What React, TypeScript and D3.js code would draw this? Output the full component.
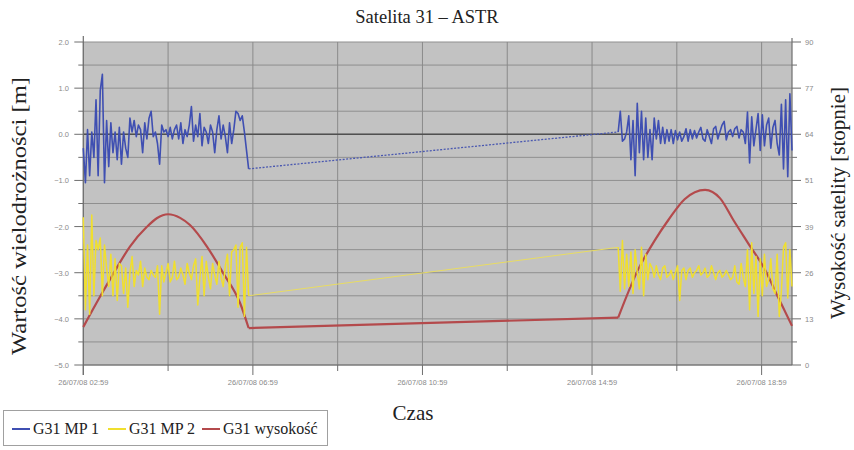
import React from "react";
import * as d3 from "d3";

// ---- data ----
const X_RANGE = ["26/07/08 02:59", "26/07/08 19:42"];
const X_TICK_LABELS = ["26/07/08 02:59", "26/07/08 06:59", "26/07/08 10:59", "26/07/08 14:59", "26/07/08 18:59"];
const X_MINOR_TICKS = ["26/07/08 04:59", "26/07/08 08:59", "26/07/08 12:59", "26/07/08 16:59"];
const LEFT_TICKS = [-5, -4, -3, -2, -1, 0, 1, 2];
const RIGHT_TICK_LABELS = ["0", "13", "26", "39", "51", "64", "77", "90"];
const RIGHT_MAX = 90;

// epochs every 3 minutes inside each pass
const PASS_STARTS = ["26/07/08 02:59", "26/07/08 15:36"];
const SAMPLE_STEP_MIN = 3;

const MP1_PASS1 = [
  -0.3, -1.05, 0.1, -0.9, 0.05, -0.5, 0.75, -0.9, 0.95, 1.3, -1.05, 0.3, -0.7, 0.25, -0.4, 0.05,
  -0.55, 0.15, -0.65, 0.05, -0.3, -0.5, 0.35, 0.05, 0.3, -0.05, 0.2, 0.1, -0.4, 0.25, -0.1, 0.35,
  0.5, -0.05, 0.05, -0.2, -0.65, 0.2, 0.05, 0.1, -0.05, 0.15, -0.1, 0.1, 0.2, -0.1, 0.25, -0.2,
  0.1, -0.05, 0.2, 0.6, -0.15, 0.2, -0.05, 0.45, -0.25, 0.15, 0.05, -0.2, 0.2, 0.05, -0.4, 0.1,
  0.4, -0.1, 0.2, -0.05, -0.4, 0.25, -0.2, 0.1, 0.5, 0.45, 0.3, 0.4, 0.05, -0.35, -0.75,
];
const MP1_PASS2 = [
  0.05, 0.5, -0.15, -0.1, 0.05, 0.4, -0.55, 0.3, -0.9, 0.67, -0.4, 0.5, -0.55, 0.35, -0.5, 0.1,
  -0.55, 0.35, -0.1, 0.3, -0.2, 0.15, -0.2, 0.1, -0.15, 0.1, -0.2, 0.08, -0.12, 0.05, -0.15, -0.05,
  0.12, -0.15, 0.1, -0.1, 0.08, -0.08, 0.05, 0.15, -0.1, -0.15, 0.1, -0.05, -0.2, 0.12, 0.17, -0.1,
  0.05, 0.2, 0.28, -0.12, 0.05, 0.1, -0.05, 0.12, 0.17, -0.08, 0.1, 0.05, -0.2, 0.48, -0.62, 0.38,
  -0.25, 0.1, 0.45, -0.35, 0.42, -0.25, 0.2, 0.35, -0.3, 0.15, 0.3, -0.2, -0.45, 0.65, -0.75, 0.75,
  -0.92, 0.88, -0.35,
];
const MP2_PASS1 = [
  -1.8, -3.8, -2.4, -3.9, -1.75, -3.5, -2.3, -2.5, -2.25, -3.5, -2.4, -2.9, -3.3, -2.6, -3.5, -2.7,
  -3.6, -2.8, -2.85, -3.45, -2.9, -3.75, -3.0, -2.65, -3.3, -2.95, -3.05, -2.75, -3.3, -2.9, -3.1, -3.15,
  -2.95, -3.05, -3.1, -2.85, -3.9, -2.85, -3.2, -3.0, -2.8, -3.2, -3.1, -2.75, -3.15, -3.1, -2.9, -3.05,
  -3.25, -2.8, -3.0, -3.15, -2.85, -2.7, -3.7, -3.1, -2.65, -3.5, -2.75, -3.1, -3.35, -2.8, -3.05, -3.25,
  -2.75, -3.1, -3.3, -2.85, -2.6, -3.5, -2.55, -2.5, -2.4, -3.75, -2.45, -2.35, -3.95, -2.45, -3.5,
];
const MP2_PASS2 = [
  -2.45, -3.4, -2.3, -3.35, -2.6, -3.3, -2.55, -3.45, -2.5, -3.0, -3.35, -2.45, -3.5, -2.6, -3.15, -2.8,
  -2.9, -3.1, -2.85, -3.05, -3.15, -2.9, -2.85, -3.1, -3.05, -2.95, -3.15, -3.0, -2.85, -3.6, -2.95, -2.9,
  -3.15, -2.95, -2.9, -3.1, -3.0, -2.95, -2.85, -3.05, -3.0, -2.9, -3.1, -3.05, -2.85, -3.0, -3.15, -3.0,
  -2.95, -3.1, -3.05, -2.95, -3.05, -3.15, -3.1, -2.85, -3.2, -3.25, -2.8, -3.1, -3.3, -2.5, -3.8, -2.35,
  -3.45, -2.65, -3.95, -2.7, -3.5, -2.6, -3.3, -3.15, -2.7, -3.35, -3.45, -2.6, -3.95, -3.4, -2.45, -2.35,
  -3.55, -2.5, -3.3,
];

// satellite elevation [deg]
const ELEV_PASS1_TIMES = ["02:59", "03:22", "03:42", "04:05", "04:29", "04:43", "04:59", "05:16", "05:30", "05:54", "06:17", "06:41", "06:53"];
const ELEV_PASS1_DEG = [10.6, 18.8, 25.6, 33.0, 38.5, 40.9, 42.0, 41.0, 39.0, 33.0, 25.6, 17.2, 10.3];
const ELEV_PASS2_TIMES = ["15:36", "16:04", "16:28", "16:47", "17:10", "17:39", "18:00", "18:19", "18:40", "19:04", "19:22", "19:42"];
const ELEV_PASS2_DEG = [13.2, 26.5, 34.8, 40.4, 46.2, 48.8, 46.5, 40.4, 33.9, 26.5, 19.0, 10.9];

const LEGEND = [
  { label: "G31 MP 1", color: "#3f4fb2" },
  { label: "G31 MP 2", color: "#f0df2e" },
  { label: "G31 wysokość", color: "#b44a4c" },
];

// ---- helpers ----
const parse = d3.timeParse("%d/%m/%y %H:%M");
const onDay = (hhmm: string) => parse("26/07/08 " + hhmm) as Date;

type Pt = { t: Date; v: number };

function passPoints(start: string, values: number[]): Pt[] {
  const t0 = parse(start) as Date;
  return values.map((v, i) => ({ t: d3.timeMinute.offset(t0, i * SAMPLE_STEP_MIN), v }));
}

export default function App() {
  const L = 83.3, R = 792, T = 42, B = 365;

  const x = d3.scaleTime().domain(X_RANGE.map((s) => parse(s) as Date)).range([L, R]);
  const yL = d3.scaleLinear().domain([-5, 2]).range([B, T]);
  const yR = d3.scaleLinear().domain([0, RIGHT_MAX]).range([B, T]);

  const mp1a = passPoints(PASS_STARTS[0], MP1_PASS1);
  const mp1b = passPoints(PASS_STARTS[1], MP1_PASS2);
  const mp2a = passPoints(PASS_STARTS[0], MP2_PASS1);
  const mp2b = passPoints(PASS_STARTS[1], MP2_PASS2);
  const el1: Pt[] = ELEV_PASS1_TIMES.map((s, i) => ({ t: onDay(s), v: ELEV_PASS1_DEG[i] }));
  const el2: Pt[] = ELEV_PASS2_TIMES.map((s, i) => ({ t: onDay(s), v: ELEV_PASS2_DEG[i] }));

  const lineL = d3.line<Pt>().x((d) => x(d.t)).y((d) => yL(d.v));
  const lineR = d3.line<Pt>().x((d) => x(d.t)).y((d) => yR(d.v));
  const arcR = d3.line<Pt>().x((d) => x(d.t)).y((d) => yR(d.v)).curve(d3.curveMonotoneX);

  const hGrid = d3.range(-5, 2.01, 0.5);
  const vGrid = [...X_TICK_LABELS, ...X_MINOR_TICKS].map((s) => parse(s) as Date);
  const fmtL = d3.format(".1f");
  const rightTicks = RIGHT_TICK_LABELS.map((lab, k) => ({ v: (RIGHT_MAX * k) / (RIGHT_TICK_LABELS.length - 1), lab }));

  const tickFont = "Liberation Sans, Arial, sans-serif";
  const serif = "Liberation Serif, Times New Roman, serif";
  const tickColor = "#8a8a8a";
  const axisColor = "#6e6e6e";

  return (
    <svg width={854} height={450} style={{ position: "absolute", left: 0, top: 0, background: "#fff" }}>
      <rect x={0} y={0} width={854} height={450} fill="#fff" />
      <text x={427} y={23} textAnchor="middle" fontFamily={serif} fontSize={18.5} fill="#222">
        Satelita 31 – ASTR
      </text>

      {/* plot background */}
      <rect x={L} y={T} width={R - L} height={B - T} fill="#c2c2c2" />

      {/* grid */}
      {hGrid.map((v) => (
        <line key={"h" + v} x1={L} x2={R} y1={yL(v)} y2={yL(v)} stroke="#8f8f8f" strokeWidth={1} />
      ))}
      {vGrid.map((d) => (
        <line key={"v" + d.getTime()} x1={x(d)} x2={x(d)} y1={T} y2={B} stroke="#8a8a8a" strokeWidth={1} />
      ))}
      <line x1={L} x2={R} y1={yL(0)} y2={yL(0)} stroke="#505050" strokeWidth={1.4} />

      {/* axes */}
      <line x1={L} x2={L} y1={T - 6} y2={B + 10} stroke={axisColor} strokeWidth={1.2} />
      <line x1={R} x2={R} y1={T - 4} y2={B} stroke={axisColor} strokeWidth={1.2} />
      <line x1={L} x2={R} y1={B} y2={B} stroke={axisColor} strokeWidth={1.2} />

      {hGrid.map((v) => {
        const major = Number.isInteger(v);
        return <line key={"lt" + v} x1={L - (major ? 9 : 5)} x2={L} y1={yL(v)} y2={yL(v)} stroke={axisColor} strokeWidth={1} />;
      })}
      {LEFT_TICKS.map((v) => (
        <text key={"ll" + v} x={69} y={yL(v) + 3} textAnchor="end" fontFamily={tickFont} fontSize={7.5} fill={tickColor}>
          {fmtL(v)}
        </text>
      ))}

      {rightTicks.map((d) => (
        <g key={"rt" + d.lab}>
          <line x1={R} x2={R + 9} y1={yR(d.v)} y2={yR(d.v)} stroke={axisColor} strokeWidth={1} />
          <text x={805} y={yR(d.v) + 3} fontFamily={tickFont} fontSize={7.5} fill={tickColor}>
            {d.lab}
          </text>
        </g>
      ))}
      {rightTicks.slice(0, -1).map((d, k) => {
        const v = (d.v + rightTicks[k + 1].v) / 2;
        return <line key={"rm" + k} x1={R} x2={R + 5} y1={yR(v)} y2={yR(v)} stroke={axisColor} strokeWidth={1} />;
      })}

      {X_TICK_LABELS.map((s) => {
        const d = parse(s) as Date;
        return (
          <g key={"xt" + s}>
            <line x1={x(d)} x2={x(d)} y1={B} y2={B + 10} stroke={axisColor} strokeWidth={1} />
            <text x={x(d)} y={385} textAnchor="middle" fontFamily={tickFont} fontSize={7.5} fill={tickColor}>
              {s}
            </text>
          </g>
        );
      })}
      {X_MINOR_TICKS.map((s) => {
        const d = parse(s) as Date;
        return <line key={"xm" + s} x1={x(d)} x2={x(d)} y1={B} y2={B + 6} stroke={axisColor} strokeWidth={1} />;
      })}

      {/* series */}
      <g fill="none" strokeLinejoin="round">
        <path d={lineR([el1[el1.length - 1], el2[0]]) || ""} stroke="#b44a4c" strokeWidth={2.2} />
        <path d={arcR(el1) || ""} stroke="#b44a4c" strokeWidth={2.2} />
        <path d={arcR(el2) || ""} stroke="#b44a4c" strokeWidth={2.2} />

        <path d={lineL([mp2a[mp2a.length - 1], mp2b[0]]) || ""} stroke="#e9dc62" strokeWidth={1} />
        <path d={lineL(mp2a) || ""} stroke="#f0df2e" strokeWidth={1.5} />
        <path d={lineL(mp2b) || ""} stroke="#f0df2e" strokeWidth={1.5} />

        <path d={lineL([mp1a[mp1a.length - 1], mp1b[0]]) || ""} stroke="#4a58b0" strokeWidth={1.3} strokeDasharray="2 1.5" />
        <path d={lineL(mp1a) || ""} stroke="#3f4fb2" strokeWidth={1.6} />
        <path d={lineL(mp1b) || ""} stroke="#3f4fb2" strokeWidth={1.6} />
      </g>

      {/* axis titles */}
      <text transform="translate(26,216) rotate(-90)" textAnchor="middle" fontFamily={serif} fontSize={22} fill="#222" textLength={278} lengthAdjust="spacingAndGlyphs">
        Wartość wielodrożności [m]
      </text>
      <text transform="translate(845,203) rotate(-90)" textAnchor="middle" fontFamily={serif} fontSize={20} fill="#222" textLength={232} lengthAdjust="spacingAndGlyphs">
        Wysokość satelity [stopnie]
      </text>
      <text x={413} y={420} textAnchor="middle" fontFamily={serif} fontSize={21} fill="#222">
        Czas
      </text>

      {/* legend */}
      <rect x={3.5} y={410.5} width={324} height={35} fill="#fff" stroke="#a0a0a0" strokeWidth={1} />
      {LEGEND.map((e, i) => {
        const x0 = [12, 108, 202][i];
        return (
          <g key={e.label}>
            <line x1={x0} x2={x0 + 18} y1={429} y2={429} stroke={e.color} strokeWidth={2} />
            <text x={x0 + 21} y={434} fontFamily={serif} fontSize={16} fill="#222">
              {e.label}
            </text>
          </g>
        );
      })}
    </svg>
  );
}
